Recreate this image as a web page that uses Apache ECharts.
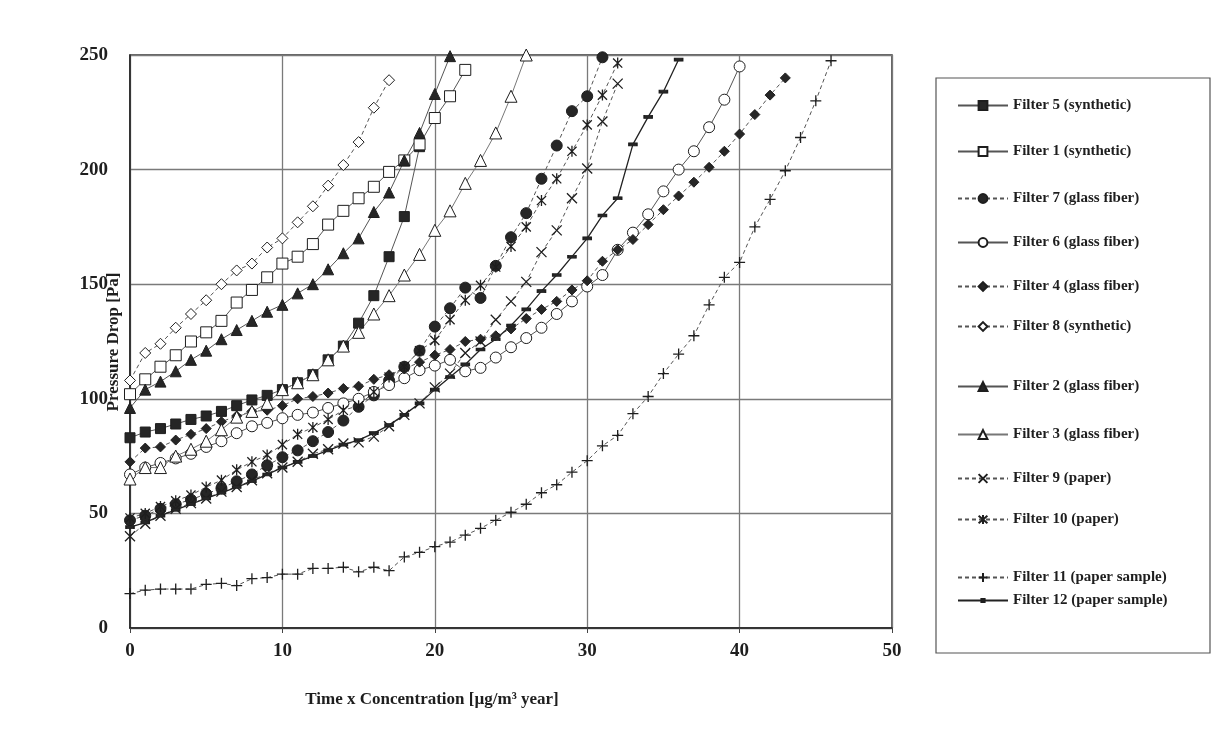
<!DOCTYPE html>
<html>
<head>
<meta charset="utf-8">
<script src="https://cdn.jsdelivr.net/npm/echarts@6/dist/echarts.min.js"></script>
<style>
html, body { margin: 0; padding: 0; background: #fff; }
#chart { width: 1218px; height: 736px; }
</style>
</head>
<body>
<div id="chart"></div>
<script>
// pressure drop [Pa], one value per step of time x concentration (x = 0, 1, 2, ...)
var filter5 = [83, 85.5, 87, 89, 91, 92.5, 94.5, 97, 99.5, 101.5, 104, 107, 110.5, 117, 123, 133, 145, 162, 179.5, 210];
var filter1 = [102, 108.5, 114, 119, 125, 129, 134, 142, 147.5, 153, 159, 162, 167.5, 176, 182, 187.5, 192.5, 199, 204, 211, 222.5, 232, 243.5];
var filter7 = [47, 49, 52, 54, 56, 58.5, 61, 64, 67, 71, 74.5, 77.5, 81.5, 85.5, 90.5, 96.5, 101.5, 108, 114, 121, 131.5, 139.5, 148.5, 144, 158, 170.5, 181, 196, 210.5, 225.5, 232, 249];
var filter6 = [67, 70, 72, 74, 76, 79, 81.5, 85, 88, 89.5, 91.5, 93, 94, 96, 98, 100, 103, 106, 109, 112.5, 114.5, 117, 112, 113.5, 118, 122.5, 126.5, 131, 137, 142.5, 149, 154, 165, 172.5, 180.5, 190.5, 200, 208, 218.5, 230.5, 245];
var filter4 = [72.5, 78.5, 79, 82, 84.5, 87, 90, 92.5, 94.5, 95, 97, 100, 101, 102.5, 104.5, 105.5, 108.5, 110.5, 113, 116, 119, 121.5, 125, 126, 127.5, 130.5, 135, 139, 142.5, 147.5, 151.5, 160, 165, 169.5, 176, 182.5, 188.5, 194.5, 201, 208, 215.5, 224, 232.5, 240];
var filter8 = [108, 120, 124, 131, 137, 143, 150, 156, 159, 166, 170, 177, 184, 193, 202, 212, 227, 239];
var filter2 = [96, 104, 107.5, 112, 117, 121, 126, 130, 134, 138, 141, 146, 150, 156.5, 163.5, 170, 181.5, 190, 204, 216, 233, 249.5];
var filter3 = [65, 70, 70, 75, 78, 81.5, 86.5, 92, 94.5, 98, 104, 107, 110.5, 117, 123, 129, 137, 145, 154, 163, 173.5, 182, 194, 204, 216, 232, 250];
var filter9 = [40, 45.5, 49, 52, 54.5, 56.5, 59.5, 61.5, 64.5, 67.5, 70, 72.5, 76, 78, 80.5, 81, 83.5, 88, 93, 98, 105, 111, 120, 125, 134.5, 142.5, 151, 164, 173.5, 187.5, 200.5, 221, 237.5];
var filter10 = [48, 50, 53, 55.5, 58, 61.5, 64.5, 69, 72.5, 75.5, 80, 84.5, 87.5, 91, 95, 97, 103, 109.5, 114, 121, 125.5, 134.5, 143, 149.5, 157.5, 166.5, 175, 186.5, 196, 208, 219.5, 232.5, 246.5];
var filter11 = [15, 16.5, 17, 17, 17, 19, 19.5, 18.5, 21.5, 22, 23.5, 23.5, 26, 26, 26.5, 24.5, 26.5, 25, 31, 33, 35.5, 37.5, 40.5, 43.5, 47, 50.5, 54, 59, 62.5, 68, 73, 79.5, 84, 93.5, 101, 111, 119.5, 127.5, 141, 153, 159.5, 175, 187, 199.5, 214, 230, 247.5];
var filter12 = [44, 46, 49, 51.5, 54, 56.5, 59, 61.5, 64, 67, 70, 72.5, 75, 77.5, 80, 82, 85, 88.5, 93, 98, 104, 109.5, 115, 121.5, 126, 132, 139, 147, 154, 162, 170, 180, 187.5, 211, 223, 234, 248];

// tick labels
var xTicks = [0, 10, 20, 30, 40, 50];
var yTicks = [0, 50, 100, 150, 200, 250];

// legend names (same order as in the legend box)
var names = ['Filter 5 (synthetic)', 'Filter 1 (synthetic)', 'Filter 7 (glass fiber)', 'Filter 6 (glass fiber)',
	'Filter 4 (glass fiber)', 'Filter 8 (synthetic)', 'Filter 2 (glass fiber)', 'Filter 3 (glass fiber)',
	'Filter 9 (paper)', 'Filter 10 (paper)', 'Filter 11 (paper sample)', 'Filter 12 (paper sample)'];

// legend row positions (px from top)
var legendTops = [101, 147, 194, 238, 282, 322, 382, 430, 474, 515, 573, 598];

var serif = '"Liberation Serif", "DejaVu Serif", serif';
var ink = '#1e1e1e';

var crossPath = 'path://M0,0L10,10M10,0L0,10';
var starPath = 'path://M0,0L10,10M10,0L0,10M5,-1L5,11';
var plusPath = 'path://M5,0L5,10M0,5L10,5';

// index -> x value
function toPoints(arr) {
	return arr.map(function (v, i) { return [i, v]; });
}

function makeSeries(name, arr, symbol, size, filled, dashed, lineColor, lineWidth) {
	var stroked = symbol.indexOf('path://') === 0;
	return {
		name: name,
		type: 'line',
		data: toPoints(arr),
		symbol: symbol,
		symbolSize: size,
		symbolKeepAspect: true,
		showAllSymbol: true,
		animation: false,
		lineStyle: {
			color: lineColor || '#555',
			width: lineWidth || 1,
			type: dashed ? [4, 3] : 'solid'
		},
		itemStyle: {
			color: stroked ? 'rgba(0,0,0,0)' : (filled ? '#262626' : '#fff'),
			borderColor: ink,
			borderWidth: stroked ? 1.3 : 1
		},
		emphasis: { disabled: true }
	};
}

var series = [
	makeSeries(names[0], filter5, 'rect', 10, true, false),
	makeSeries(names[1], filter1, 'rect', 11, false, false),
	makeSeries(names[2], filter7, 'circle', 11, true, true),
	makeSeries(names[3], filter6, 'circle', 11, false, false),
	makeSeries(names[4], filter4, 'diamond', 10, true, true),
	makeSeries(names[5], filter8, 'diamond', 11, false, true),
	makeSeries(names[6], filter2, 'triangle', 11, true, false),
	makeSeries(names[7], filter3, 'triangle', 12, false, false, '#777'),
	makeSeries(names[8], filter9, crossPath, 10, false, true),
	makeSeries(names[9], filter10, starPath, 11, false, true),
	makeSeries(names[10], filter11, plusPath, 11, false, true),
	makeSeries(names[11], filter12, 'rect', [8, 3], true, false, '#222', 1.3)
];

// one legend per row so the uneven spacing of the original box is kept
var legends = names.map(function (n, i) {
	return {
		data: [n],
		left: 952,
		top: legendTops[i] - 8,
		itemWidth: 50,
		itemHeight: 11,
		itemGap: 4,
		selectedMode: false,
		textStyle: { fontFamily: serif, fontSize: 15, color: ink, fontWeight: 'bold' }
	};
});
// filter 12 uses a flat dash as marker
legends[11].itemHeight = 4;
legends[11].top = legendTops[11] - 10;

var chart = echarts.init(document.getElementById('chart'), null, { renderer: 'canvas' });

chart.setOption({
	backgroundColor: '#fff',
	animation: false,
	grid: {
		left: 130, right: 326, top: 55, bottom: 108,
		show: true, borderColor: '#333', borderWidth: 1.5,
		outerBoundsMode: 'none'
	},
	legend: legends,
	xAxis: {
		type: 'value',
		min: xTicks[0],
		max: xTicks[xTicks.length - 1],
		interval: xTicks[1] - xTicks[0],
		axisLine: { show: true, onZero: false, lineStyle: { color: '#222', width: 1.5 } },
		axisTick: { show: true, length: 5, lineStyle: { color: '#444' } },
		splitLine: { show: true, lineStyle: { color: '#7a7a7a', width: 1.3 } },
		axisLabel: { fontFamily: serif, fontSize: 19, fontWeight: 'bold', color: ink, margin: 14 }
	},
	yAxis: {
		type: 'value',
		min: yTicks[0],
		max: yTicks[yTicks.length - 1],
		interval: yTicks[1] - yTicks[0],
		axisLine: { show: true, onZero: false, lineStyle: { color: '#222', width: 1.5 } },
		axisTick: { show: false },
		splitLine: { show: true, lineStyle: { color: '#7a7a7a', width: 1.3 } },
		axisLabel: { fontFamily: serif, fontSize: 19, fontWeight: 'bold', color: ink, margin: 22 }
	},
	graphic: [
		{
			// legend box
			type: 'rect',
			shape: { x: 936, y: 78, width: 274, height: 575 },
			style: { fill: 'none', stroke: '#555', lineWidth: 1.2 },
			silent: true
		},
		{
			type: 'text',
			x: 114, y: 342,
			rotation: Math.PI / 2,
			style: {
				text: 'Pressure Drop [Pa]',
				font: 'bold 17px ' + serif,
				fill: ink,
				align: 'center',
				verticalAlign: 'middle'
			},
			silent: true
		},
		{
			type: 'text',
			x: 432, y: 700,
			style: {
				text: 'Time x Concentration [µg/m³ year]',
				font: 'bold 17px ' + serif,
				fill: ink,
				align: 'center',
				verticalAlign: 'middle'
			},
			silent: true
		}
	],
	series: series
});
</script>
</body>
</html>
